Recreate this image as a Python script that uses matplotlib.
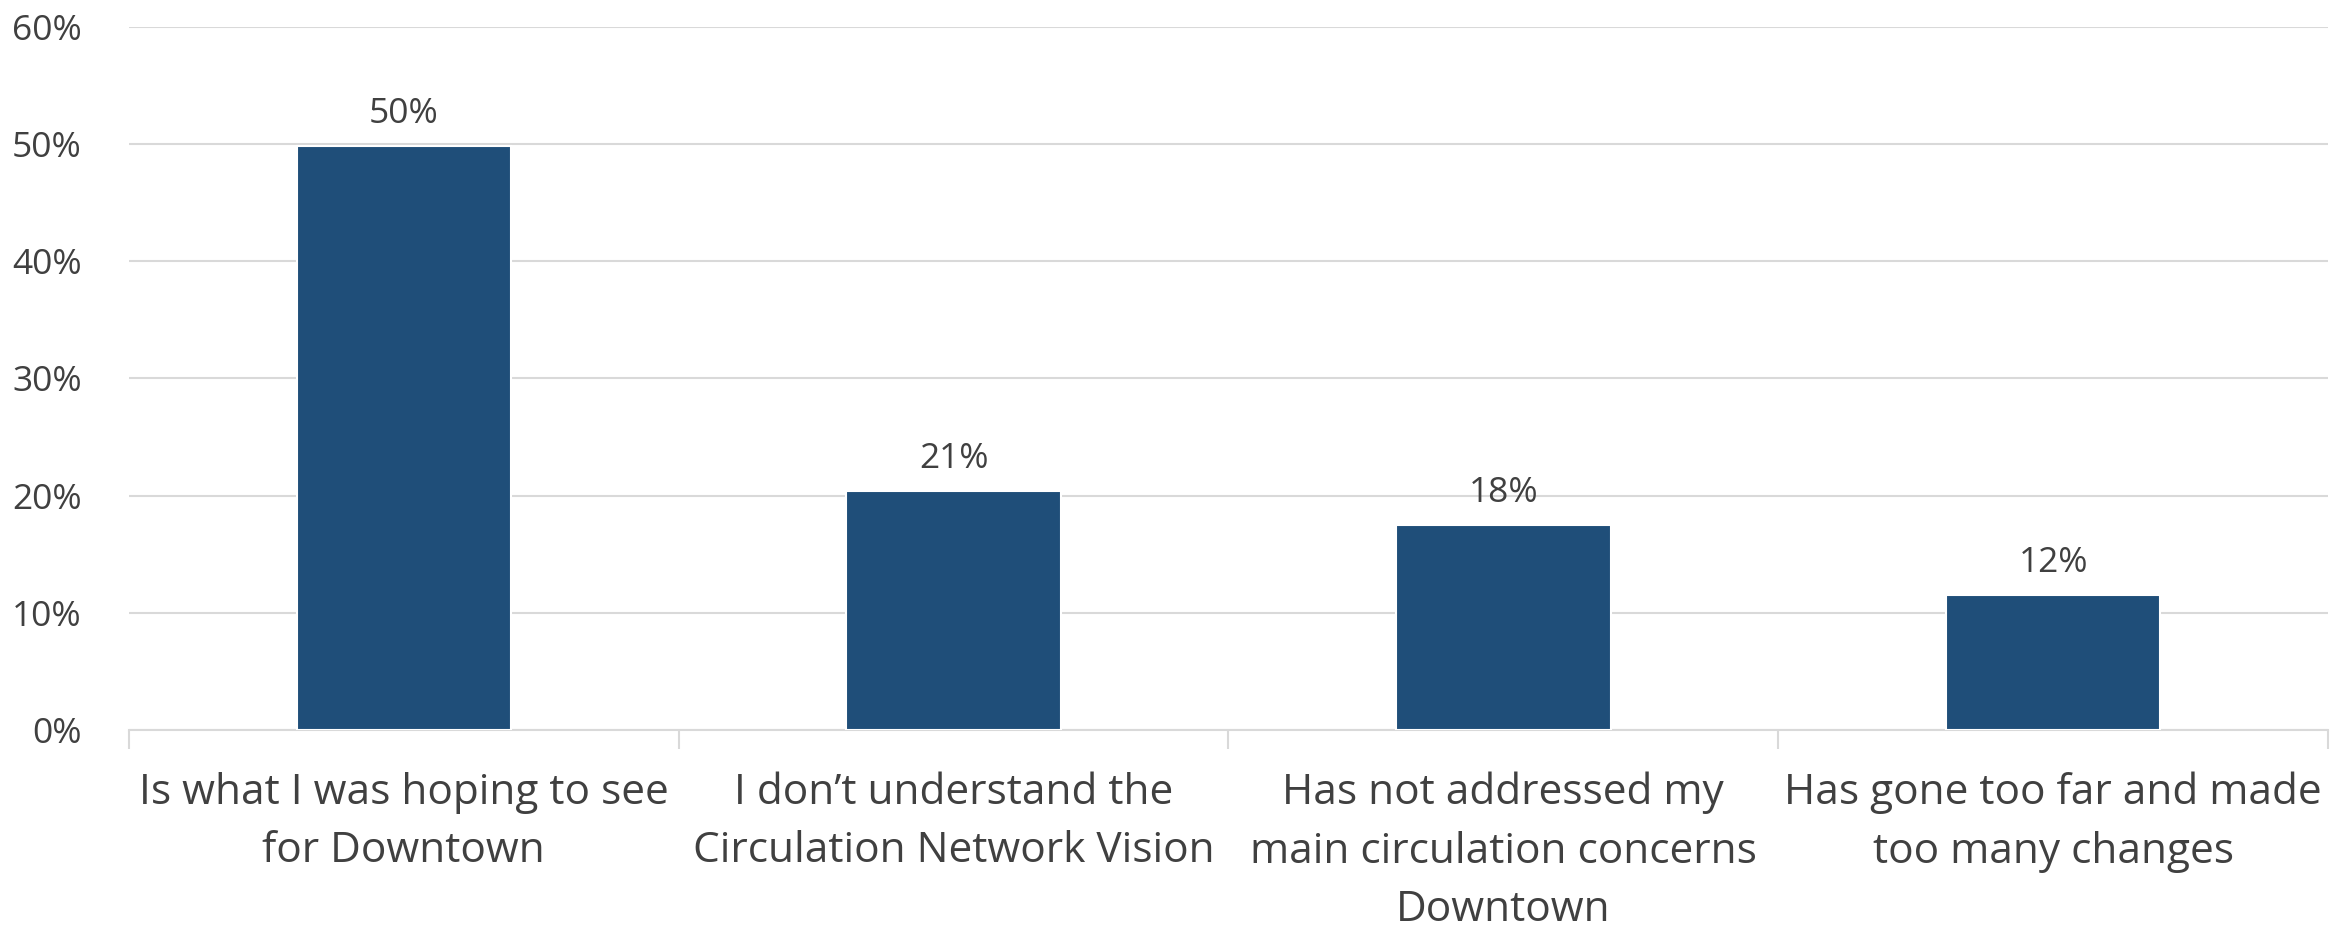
import numpy as np
import matplotlib
matplotlib.use("Agg")
import matplotlib.pyplot as plt
from matplotlib.ticker import FuncFormatter, FixedLocator

# survey answers
categories = [
    "Is what I was hoping to see\nfor Downtown",
    "I don\u2019t understand the\nCirculation Network Vision",
    "Has not addressed my\nmain circulation concerns\nDowntown",
    "Has gone too far and made\ntoo many changes",
]
shares = [49.8, 20.4, 17.5, 11.5]
share_labels = ["50%", "21%", "18%", "12%"]
y_ticks = [0, 10, 20, 30, 40, 50, 60]

bar_color = "#1F4E79"
text_color = "#404040"
grid_color = "#D9D9D9"

plt.rcParams['font.family'] = ['Open Sans', 'DejaVu Sans']

fig = plt.figure(figsize=(23.31, 9.27), dpi=100)
ax = fig.add_axes([0.0553, 0.2125, 0.9434, 0.7585])

x = np.arange(len(categories))
bars = ax.bar(x, shares, width=0.39, color=bar_color, edgecolor="white",
              linewidth=1.5, zorder=3)

for b, lab in zip(bars, share_labels):
    ax.annotate(lab, (b.get_x() + b.get_width() / 2, b.get_height()),
                xytext=(0, 11), textcoords="offset points",
                ha="center", va="bottom", fontsize=25.5, color=text_color)

ax.set_ylim(0, 60)
ax.set_xlim(-0.5, len(categories) - 0.5)
ax.set_yticks(y_ticks)
ax.yaxis.set_major_formatter(FuncFormatter(lambda v, p: f"{v:.0f}%"))
ax.grid(axis="y", color=grid_color, linewidth=1.5, zorder=0)

ax.set_xticks(x)
ax.set_xticklabels(categories, fontsize=30.5, color=text_color, linespacing=1.52)
ax.xaxis.set_minor_locator(FixedLocator(np.arange(-0.5, len(categories), 1.0)))
ax.tick_params(axis="x", which="major", length=0, pad=30)
ax.tick_params(axis="x", which="minor", length=14, width=1.5, color=grid_color)
ax.tick_params(axis="y", length=0, labelsize=25.5, labelcolor=text_color, pad=34)

for side in ["top", "right", "left"]:
    ax.spines[side].set_visible(False)
ax.spines["bottom"].set_color(grid_color)
ax.spines["bottom"].set_linewidth(1.5)

fig.savefig("out.png", dpi=100)
